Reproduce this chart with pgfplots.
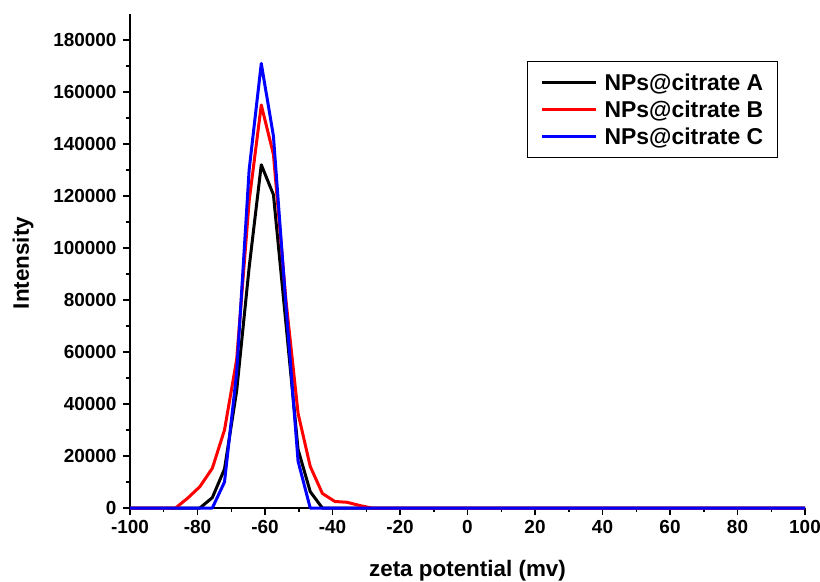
\documentclass[border=0pt]{standalone}
\usepackage{pgfplots}
\pgfplotsset{compat=1.18}
\usepackage{fontspec}
\setmainfont{Liberation Sans}
\begin{document}
\begin{tikzpicture}
\path[use as bounding box] (-130bp,-74bp) rectangle (690bp,508bp);
\begin{axis}[
  scale only axis,
  width=675bp, height=494bp,
  xmin=-100, xmax=100, ymin=0, ymax=190000,
  axis x line=bottom, axis y line=left,
  axis line style={-, line width=1.5bp},
  xtick={-100,-80,...,100},
  xticklabels={-100,-80,-60,-40,-20,0,20,40,60,80,100},
  ytick={0,20000,...,180000},
  yticklabels={0,20000,40000,60000,80000,100000,120000,140000,160000,180000},
  minor x tick num=1, minor y tick num=1,
  tick align=outside,
  major tick length=7bp, minor tick length=4bp,
  tick style={line width=1.5bp, black},
  scaled y ticks=false,
  tick label style={font=\bfseries\fontsize{19}{20}\selectfont},
  yticklabel style={xshift=-3bp},
  xticklabel style={yshift=-2bp},
  xlabel={zeta potential (mv)},
  ylabel={Intensity},
  xlabel style={font=\bfseries\fontsize{22.5}{24}\selectfont, at={(rel axis cs:0.5,0)}, anchor=center, yshift=-63bp},
  ylabel style={font=\bfseries\fontsize{22.5}{24}\selectfont, at={(rel axis cs:0,0.496)}, anchor=center, yshift=107bp},
  legend style={at={(rel axis cs:0.588,0.904)}, anchor=north west, draw=black, line width=1bp,
    font=\bfseries\fontsize{23}{28}\selectfont, inner xsep=13bp, inner ysep=7bp,
    column sep=6bp,
    nodes={inner ysep=4.5bp, inner xsep=1bp}},
  legend cell align=left,
  legend image code/.code={\draw[#1, line width=3.2bp] (0bp,0bp) -- (54bp,0bp);},
  every axis plot/.append style={line width=3bp, line join=round},
  clip=false,
]
\addplot[black] coordinates {(-100,0) (-79.3,0) (-75.6,4000) (-72.0,15000) (-68.4,45000) (-64.7,92500) (-61.1,132000) (-57.5,120500) (-53.8,71000) (-50.2,22500) (-46.6,6300) (-43.0,0) (100,0)};
\addlegendentry{NPs@citrate A}
\addplot[red] coordinates {(-100,0) (-86.5,0) (-82.9,3800) (-79.3,8200) (-75.6,15300) (-72.0,30000) (-68.4,57000) (-64.7,118000) (-61.1,155000) (-57.5,136000) (-53.8,80000) (-50.2,36400) (-46.6,16000) (-43.0,5600) (-39.3,2500) (-35.7,2200) (-32.1,1000) (-28.4,0) (100,0)};
\addlegendentry{NPs@citrate B}
\addplot[blue] coordinates {(-100,0) (-75.6,0) (-72.0,10000) (-68.4,52000) (-64.7,130000) (-61.1,171000) (-57.5,143000) (-53.8,78000) (-50.2,18000) (-46.6,0) (100,0)};
\addlegendentry{NPs@citrate C}
\end{axis}
\end{tikzpicture}
\end{document}
